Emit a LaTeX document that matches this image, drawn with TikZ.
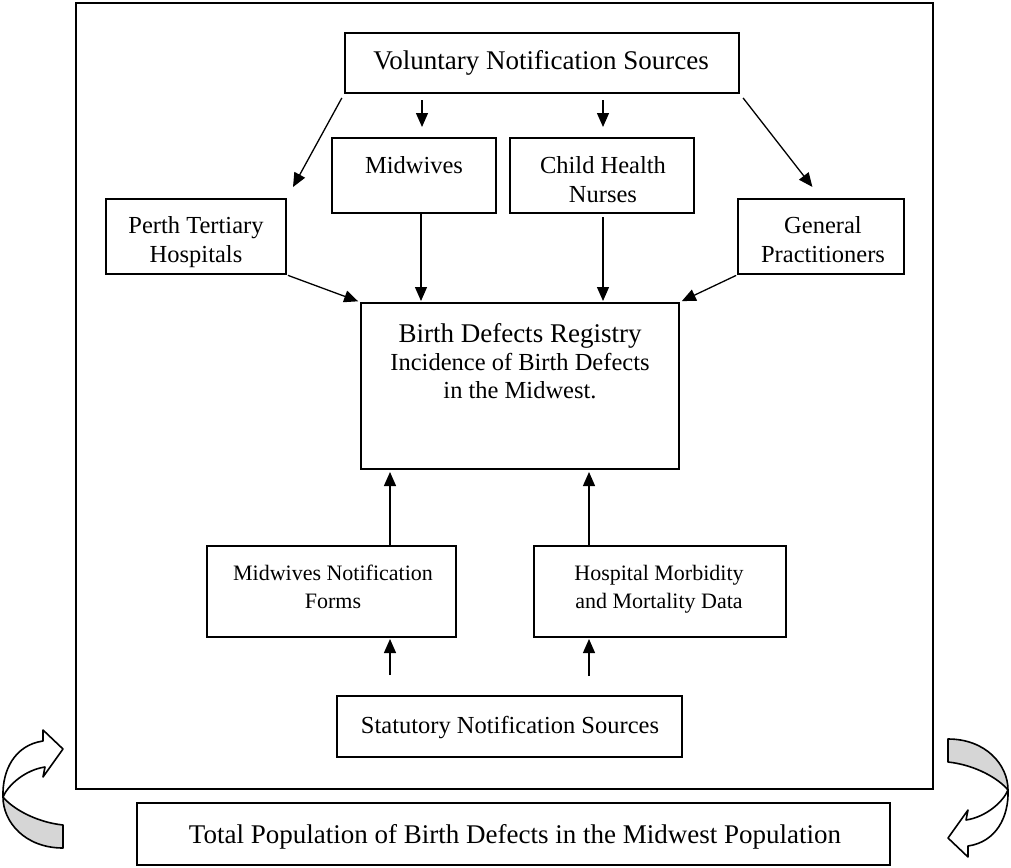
\documentclass[tikz,border=0pt]{standalone}
\usepackage{fontspec}
\setmainfont{Liberation Serif}
\usetikzlibrary{arrows.meta,calc}
\begin{document}
\begin{tikzpicture}[x=1pt,y=-1pt,
  box/.style={draw,line width=2pt,inner sep=0pt},
  arr/.style={line width=1.3pt,-{Triangle[length=14pt,width=12pt]}},
  txt/.style={anchor=base,inner sep=0pt,font=\fontsize{24.5}{29}\selectfont},
  bigtxt/.style={anchor=base,inner sep=0pt,font=\fontsize{27}{32}\selectfont},
  smalltxt/.style={anchor=base,inner sep=0pt,font=\fontsize{22}{27}\selectfont},
  ribbonarrow/.pic={
    \draw[line width=1.6pt,fill=white,line join=round]
      (-30,3.5) .. controls (-31,-23.5) and (-18,-48.5) .. (10,-52.5)
      -- (10,-63.5) -- (30,-44.5) -- (10,-16.5) -- (12,-26.5)
      .. controls (-8,-23.5) and (-25,-8.5) .. (-30,3.5) -- cycle;
    \draw[line width=1.6pt,fill=black!16,line join=round]
      (-30,3.5) .. controls (-30,28.5) and (-8,54.5) .. (30,54.5)
      -- (30,31.5) .. controls (2,28.5) and (-21,14.5) .. (-30,3.5) -- cycle;
  }]
\useasboundingbox (0,0) rectangle (1011,867);

% outer frame
\node[draw,line width=2.6pt,inner sep=0pt,minimum width=857pt,minimum height=786pt] (frame) at (504.5,396) {};

% boxes
\node[box,minimum width=394pt,minimum height=60pt] (vol) at (542,63) {};
\node[box,minimum width=164pt,minimum height=75pt] (mw) at (414,175.5) {};
\node[box,minimum width=184pt,minimum height=75pt] (chn) at (602,175.5) {};
\node[box,minimum width=180pt,minimum height=75pt] (perth) at (196,236.5) {};
\node[box,minimum width=166pt,minimum height=75pt] (gp) at (821,236.5) {};
\node[box,minimum width=318pt,minimum height=166pt] (reg) at (520,386) {};
\node[box,minimum width=249pt,minimum height=91pt] (mnf) at (331.5,591.5) {};
\node[box,minimum width=252pt,minimum height=91pt] (hosp) at (660,591.5) {};
\node[box,minimum width=345pt,minimum height=61pt] (stat) at (509.5,726.5) {};
\node[box,minimum width=753pt,minimum height=62pt] (total) at (513.5,834) {};

% texts
\node[bigtxt] (tvol) at (541,70) {Voluntary Notification Sources};
\node[txt] (tmw) at (414,173) {Midwives};
\node[txt] (tchn1) at (603,173) {Child Health};
\node[txt] (tchn2) at (603,202) {Nurses};
\node[txt] (tper1) at (196,233) {Perth Tertiary};
\node[txt] (tper2) at (196,262) {Hospitals};
\node[txt] (tgp1) at (823,233) {General};
\node[txt] (tgp2) at (823,262) {Practitioners};
\node[bigtxt] (treg1) at (520,342) {Birth Defects Registry};
\node[txt] (treg2) at (520,370) {Incidence of Birth Defects};
\node[txt] (treg3) at (520,398) {in the Midwest.};
\node[smalltxt] (tmnf1) at (333,580) {Midwives Notification};
\node[smalltxt] (tmnf2) at (333,608) {Forms};
\node[smalltxt] (thos1) at (659,580) {Hospital Morbidity};
\node[smalltxt] (thos2) at (659,608) {and Mortality Data};
\node[txt] (tstat) at (510,733) {Statutory Notification Sources};
\node[bigtxt] (ttot) at (515,843) {Total Population of Birth Defects in the Midwest Population};

% x positions of vertical connectors
\coordinate (xa) at (422,0);
\coordinate (xa2) at (421,0);
\coordinate (xb) at (603,0);
\coordinate (xc) at (390,0);
\coordinate (xd) at (589,0);

% connectors
\draw[arr,shorten <=6pt,shorten >=10pt] (vol.south -| xa) -- (mw.north -| xa);
\draw[arr,shorten <=6pt,shorten >=10pt] (vol.south -| xb) -- (chn.north -| xb);
\draw[arr,shorten <=4.5pt,shorten >=12.5pt] (vol.south west) -- (perth.north east);
\draw[arr,shorten <=5pt,shorten >=14pt] (vol.south east) -- (gp.north);
\draw[arr,shorten <=1pt,shorten >=2pt] (perth.south east) -- (reg.north west);
\draw[arr,shorten >=1pt] (mw.south -| xa2) -- (reg.north -| xa2);
\draw[arr,shorten <=3pt,shorten >=1pt] (chn.south -| xb) -- (reg.north -| xb);
\draw[arr,shorten <=1pt,shorten >=2pt] (gp.south west) -- (reg.north east);
\draw[arr,shorten >=2pt] (mnf.north -| xc) -- (reg.south -| xc);
\draw[arr,shorten >=2pt] (hosp.north -| xd) -- (reg.south -| xd);
\draw[arr,shorten <=20pt,shorten >=1pt] (stat.north -| xc) -- (mnf.south -| xc);
\draw[arr,shorten <=19pt,shorten >=1pt] (stat.north -| xd) -- (hosp.south -| xd);

% cycle arrows
\pic at (33,793.5) {ribbonarrow};
\pic[rotate=180] at (978,793.5) {ribbonarrow};
\end{tikzpicture}
\end{document}
